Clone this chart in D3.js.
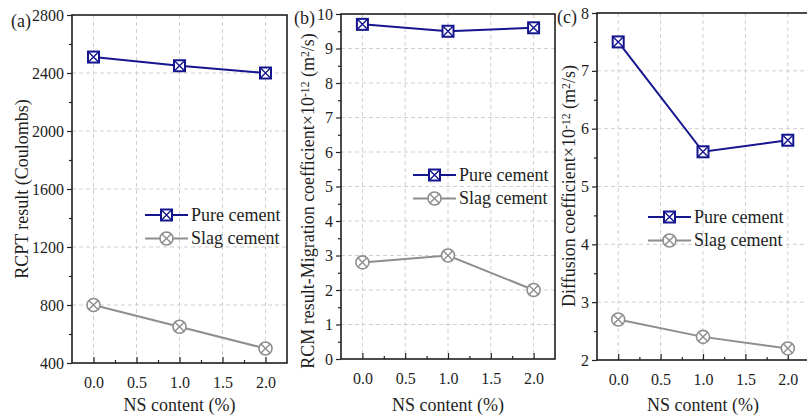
<!DOCTYPE html>
<html>
<head>
<meta charset="utf-8">
<script src="https://cdn.jsdelivr.net/npm/d3@7"></script>
<style>
  body { margin: 0; background: #fff; }
  svg { display: block; }
  .grid line { stroke: #cfcfcf; stroke-dasharray: 4,3; stroke-width: 1; }
  .axis path { display: none; }
  .axis line { stroke: #222; stroke-width: 1.2; }
</style>
</head>
<body>
<div id="chart"></div>
<script>
// NS content (%) on the x axis
const nsContent = [0, 1, 2];
const seriesNames = ['Pure cement', 'Slag cement'];

// (a) RCPT result (Coulombs)
const rcptPure = [2510, 2450, 2400];
const rcptSlag = [800, 650, 500];
// (b) RCM migration coefficient x1e-12
const rcmPure = [9.7, 9.5, 9.6];
const rcmSlag = [2.8, 3.0, 2.0];
// (c) diffusion coefficient x1e-12
const diffPure = [7.5, 5.6, 5.8];
const diffSlag = [2.7, 2.4, 2.2];

const xTicks = [0, 0.5, 1.0, 1.5, 2.0];
const xMinorTicks = [0.25, 0.75, 1.25, 1.75];
const rcptTicks = [400, 800, 1200, 1600, 2000, 2400, 2800];
const rcptMinor = [600, 1000, 1400, 1800, 2200, 2600];
const rcmTicks = [0, 1, 2, 3, 4, 5, 6, 7, 8, 9, 10];
const rcmMinor = [0.5, 1.5, 2.5, 3.5, 4.5, 5.5, 6.5, 7.5, 8.5, 9.5];
const diffTicks = [2, 3, 4, 5, 6, 7, 8];
const diffMinor = [2.5, 3.5, 4.5, 5.5, 6.5, 7.5];

const width = 807;
const height = 417;
const font = '"Liberation Serif", "Times New Roman", Times, serif';
const ink = '#1e1e1e';
const pureColor = '#15158f';
const slagColor = '#8e8e8e';

const svg = d3.select('#chart').append('svg')
    .attr('width', width)
    .attr('height', height)
    .attr('font-family', font);

const panels = [
  {
    tag: '(a)', tagX: 11, tagY: 27,
    left: 72, right: 287, top: 15, bottom: 363,
    yDomain: [400, 2800], yTicks: rcptTicks, yMinor: rcptMinor,
    pure: rcptPure, slag: rcptSlag,
    title: [{t: 'RCPT result (Coulombs)'}], titleX: 28, titleY: 189, titleSize: 18,
    legendX: 145, legendY: 215
  },
  {
    tag: '(b)', tagX: 294, tagY: 24,
    left: 341, right: 555, top: 14, bottom: 359,
    yDomain: [0, 10], yTicks: rcmTicks, yMinor: rcmMinor,
    pure: rcmPure, slag: rcmSlag,
    title: [{t: 'RCM result-Migration coefficient\u00d710'}, {t: '-12', sup: true}, {t: ' (m'}, {t: '2', sup: true}, {t: '/s)'}],
    titleX: 314, titleY: 201, titleSize: 18,
    legendX: 413, legendY: 175
  },
  {
    tag: '(c)', tagX: 557, tagY: 23,
    left: 597, right: 809, top: 13, bottom: 360,
    yDomain: [2, 8], yTicks: diffTicks, yMinor: diffMinor,
    pure: diffPure, slag: diffSlag,
    title: [{t: 'Diffusion coefficient\u00d710'}, {t: '-12', sup: true}, {t: ' (m'}, {t: '2', sup: true}, {t: '/s)'}],
    titleX: 575, titleY: 186, titleSize: 18,
    legendX: 648, legendY: 217
  }
];

function drawMarker (g, kind, color) {
  if (kind === 0) {
    const s = 5.5;
    g.append('rect')
      .attr('x', -s).attr('y', -s).attr('width', 2 * s).attr('height', 2 * s)
      .attr('fill', '#fff').attr('stroke', color).attr('stroke-width', 2);
    g.append('path')
      .attr('d', `M${-s},${-s}L${s},${s}M${s},${-s}L${-s},${s}`)
      .attr('stroke', color).attr('stroke-width', 1.4);
  } else {
    const r = 6.5;
    const d = r * Math.SQRT1_2;
    g.append('circle')
      .attr('r', r)
      .attr('fill', '#fff').attr('stroke', color).attr('stroke-width', 1.6);
    g.append('path')
      .attr('d', `M${-d},${-d}L${d},${d}M${d},${-d}L${-d},${d}`)
      .attr('stroke', color).attr('stroke-width', 1.4);
  }
}

function styleAxisText (a) {
  a.attr('font-family', font).attr('font-size', 16);
  a.selectAll('text').attr('fill', ink);
}

panels.forEach(function (p) {
  const x = d3.scaleLinear().domain([-0.25, 2.25]).range([p.left, p.right]);
  const y = d3.scaleLinear().domain(p.yDomain).range([p.bottom, p.top]);
  const g = svg.append('g');

  // dashed grid
  const grid = g.append('g').attr('class', 'grid');
  grid.selectAll('.gx').data(xTicks).enter().append('line')
    .attr('x1', d => x(d)).attr('x2', d => x(d))
    .attr('y1', p.top).attr('y2', p.bottom);
  grid.selectAll('.gy').data(p.yTicks.slice(1, -1)).enter().append('line')
    .attr('x1', p.left).attr('x2', p.right)
    .attr('y1', d => y(d)).attr('y2', d => y(d));

  // x axis: inward ticks
  g.append('g')
    .attr('class', 'axis')
    .attr('transform', `translate(0, ${p.bottom})`)
    .call(d3.axisBottom(x).tickValues(xTicks).tickSize(-6).tickFormat(d3.format('.1f')))
    .call(a => a.selectAll('text').attr('y', 14).attr('dy', '0.71em'))
    .call(styleAxisText);
  g.append('g')
    .attr('class', 'axis')
    .attr('transform', `translate(0, ${p.bottom})`)
    .call(d3.axisBottom(x).tickValues(xMinorTicks).tickSize(-3).tickFormat(''));

  // y axis: outward ticks
  g.append('g')
    .attr('class', 'axis')
    .attr('transform', `translate(${p.left}, 0)`)
    .call(d3.axisLeft(y).tickValues(p.yTicks).tickSize(5).tickPadding(3).tickFormat(d3.format('d')))
    .call(styleAxisText);
  g.append('g')
    .attr('class', 'axis')
    .attr('transform', `translate(${p.left}, 0)`)
    .call(d3.axisLeft(y).tickValues(p.yMinor).tickSize(3).tickFormat(''));

  // frame
  g.append('rect')
    .attr('x', p.left).attr('y', p.top)
    .attr('width', p.right - p.left).attr('height', p.bottom - p.top)
    .attr('fill', 'none').attr('stroke', ink).attr('stroke-width', 1.6);

  // series
  [p.pure, p.slag].forEach(function (vals, si) {
    const color = si === 0 ? pureColor : slagColor;
    const pts = nsContent.map((v, i) => [x(v), y(vals[i])]);
    g.append('path')
      .attr('d', d3.line()(pts))
      .attr('fill', 'none').attr('stroke', color).attr('stroke-width', 2);
    pts.forEach(function (pt) {
      drawMarker(g.append('g').attr('transform', `translate(${pt[0]}, ${pt[1]})`), si, color);
    });
  });

  // legend
  seriesNames.forEach(function (name, si) {
    const color = si === 0 ? pureColor : slagColor;
    const ly = p.legendY + si * 23.5;
    const lg = g.append('g').attr('transform', `translate(${p.legendX}, ${ly})`);
    lg.append('line').attr('x1', 0).attr('x2', 43).attr('y1', 0).attr('y2', 0)
      .attr('stroke', color).attr('stroke-width', 2);
    drawMarker(lg.append('g').attr('transform', 'translate(21.5, 0)'), si, color);
    lg.append('text').attr('x', 46).attr('y', 0).attr('dy', '0.33em')
      .attr('font-size', 18).attr('fill', ink).text(name);
  });

  // x title
  g.append('text')
    .attr('x', (x(0) + x(2)) / 2).attr('y', 411)
    .attr('text-anchor', 'middle').attr('font-size', 18).attr('fill', ink)
    .text('NS content (%)');

  // y title with superscripts
  const yt = g.append('text')
    .attr('transform', `translate(${p.titleX}, ${p.titleY}) rotate(-90)`)
    .attr('text-anchor', 'middle').attr('font-size', p.titleSize).attr('fill', ink);
  p.title.forEach(function (part) {
    const ts = yt.append('tspan').text(part.t);
    if (part.sup) ts.attr('font-size', p.titleSize * 0.65).attr('baseline-shift', '45%');
  });

  // panel tag
  g.append('text')
    .attr('x', p.tagX).attr('y', p.tagY)
    .attr('font-size', 18).attr('fill', ink)
    .text(p.tag);
});
</script>
</body>
</html>
